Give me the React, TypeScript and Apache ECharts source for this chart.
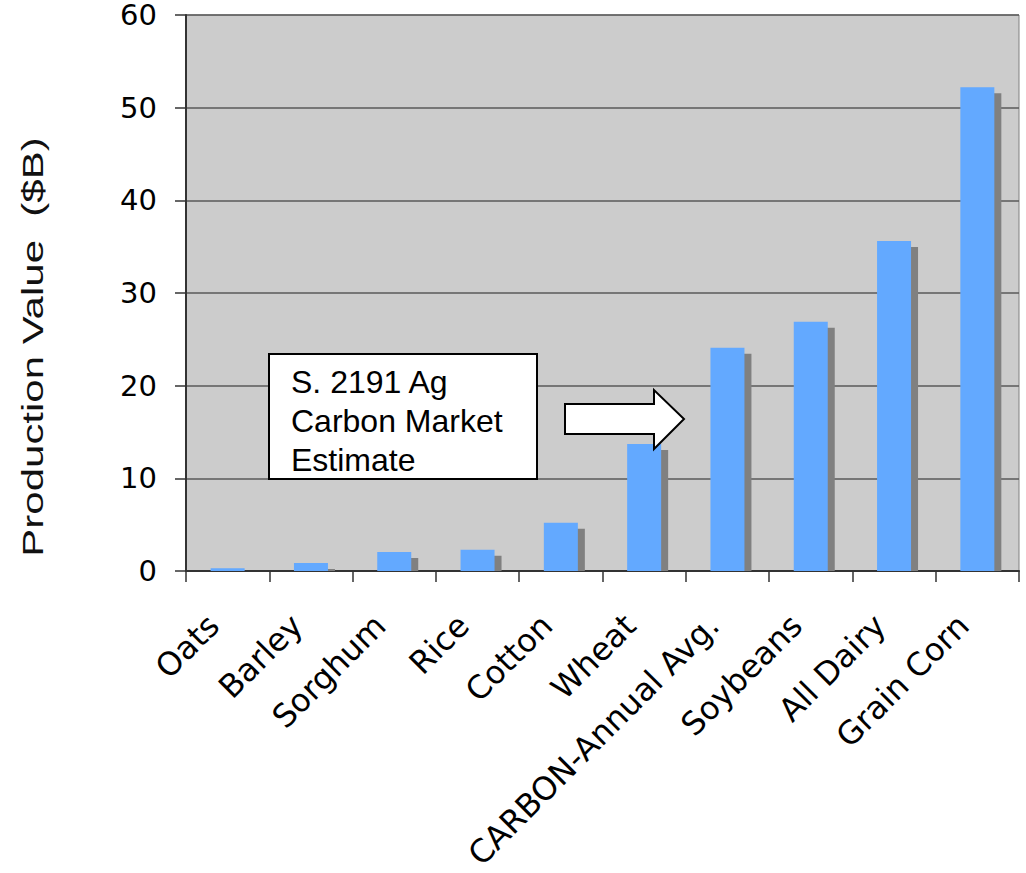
import React, { useEffect, useRef } from "react";
import * as echarts from "echarts";

const categories = [
  "Oats",
  "Barley",
  "Sorghum",
  "Rice",
  "Cotton",
  "Wheat",
  "CARBON-Annual Avg.",
  "Soybeans",
  "All Dairy",
  "Grain Corn",
];
const values = [0.3, 0.85, 2.05, 2.3, 5.2, 13.7, 24.1, 26.9, 35.6, 52.2];
const yTicks = { min: 0, max: 60, interval: 10 };
const yTitle = "Production Value  ($B)";
const noteLines = ["S. 2191 Ag", "Carbon Market", "Estimate"];

export default function App() {
  const ref = useRef<HTMLDivElement>(null);
  useEffect(() => {
    if (!ref.current) return;
    const chart = echarts.init(ref.current, null, { renderer: "svg" });
    const BAR_W = 34;
    const SH_X = 7;
    const SH_Y = 6;
    const option: any = {
      animation: false,
      grid: {
        left: 186,
        right: 7,
        top: 15,
        bottom: 302,
        containLabel: false,
        outerBoundsMode: "none",
        show: true,
        backgroundColor: "#cccccc",
        borderColor: "#808080",
        borderWidth: 1,
      },
      xAxis: {
        type: "category",
        data: categories,
        boundaryGap: true,
        axisLine: { lineStyle: { color: "#333", width: 2 } },
        axisTick: { show: true, length: 11, lineStyle: { color: "#333", width: 1.5 } },
        axisLabel: {
          rotate: 45,
          interval: 0,
          margin: 35,
          padding: [0, 20, 0, 0],
          fontFamily: "DejaVu Sans",
          fontSize: 32,
          color: "#000",
        },
      },
      yAxis: {
        type: "value",
        min: yTicks.min,
        max: yTicks.max,
        interval: yTicks.interval,
        axisLine: { show: true, lineStyle: { color: "#333", width: 2 } },
        axisTick: { show: true, length: 11, lineStyle: { color: "#333", width: 1.5 } },
        axisLabel: {
          margin: 29,
          fontFamily: "DejaVu Sans",
          fontSize: 29,
          lineHeight: 26,
          color: "#000",
        },
        splitLine: { show: true, lineStyle: { color: "#5a5a5a", width: 1.5 } },
      },
      series: [
        {
          type: "custom",
          data: values.map((v, i) => [i, v]),
          encode: { x: 0, y: 1 },
          z: 2,
          renderItem: (params: any, api: any) => {
            const idx = api.value(0);
            const v = api.value(1);
            const top = api.coord([idx, v]);
            const base = api.coord([idx, 0]);
            const y0 = top[1] + SH_Y;
            if (y0 >= base[1] - 0.5) return null;
            return {
              type: "rect",
              shape: {
                x: top[0] - BAR_W / 2 + SH_X,
                y: y0,
                width: BAR_W,
                height: base[1] - y0,
              },
              style: { fill: "#808080" },
            };
          },
        },
        {
          type: "bar",
          data: values,
          barWidth: BAR_W,
          z: 3,
          itemStyle: { color: "#63a9ff" },
        },
      ],
      graphic: [
        {
          type: "text",
          x: 33,
          y: 347,
          rotation: Math.PI / 2,
          scaleX: 1.4,
          style: {
            text: yTitle,
            fontFamily: "Liberation Sans",
            fontSize: 30,
            fill: "#111",
            align: "center",
            verticalAlign: "middle",
          },
        },
        {
          type: "rect",
          shape: { x: 269, y: 354, width: 268, height: 125 },
          style: { fill: "#fff", stroke: "#000", lineWidth: 2 },
          z: 10,
        },
        {
          type: "text",
          x: 291,
          y: 362,
          z: 11,
          style: {
            text: noteLines.join("\n"),
            fontFamily: "Liberation Sans",
            fontSize: 32,
            lineHeight: 39,
            fill: "#000",
            align: "left",
            verticalAlign: "top",
          },
        },
        {
          type: "polygon",
          z: 10,
          shape: {
            points: [
              [565, 404],
              [654, 404],
              [654, 390],
              [684, 419],
              [654, 449],
              [654, 434],
              [565, 434],
            ],
          },
          style: { fill: "#fff", stroke: "#000", lineWidth: 2 },
        },
      ],
    };
    chart.setOption(option);
    return () => chart.dispose();
  }, []);
  return (
    <div
      ref={ref}
      style={{ position: "absolute", left: 0, top: 0, width: 1026, height: 873 }}
    />
  );
}
